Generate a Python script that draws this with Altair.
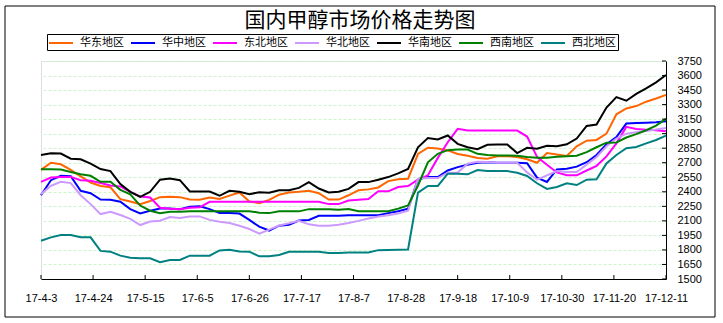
import datetime as dt
import altair as alt
import pandas as pd

# ---- data (every 4 days from 2017-04-03) ----
start = dt.date(2017, 4, 3)
dates = [(start + dt.timedelta(days=4 * i)).strftime("%Y/%m/%d") for i in range(64)]

series_names = ["华东地区", "华中地区", "东北地区", "华北地区", "华南地区", "西南地区", "西北地区"]
colors = ["#FF6600", "#0000FF", "#FF00FF", "#CC99FF", "#000000", "#008000", "#008080"]

east = [2626, 2700, 2684, 2626, 2560, 2496, 2460, 2447,
        2324, 2300, 2273, 2305, 2345, 2350, 2345, 2320,
        2317, 2341, 2325, 2360, 2393, 2300, 2283, 2317,
        2370, 2393, 2400, 2410, 2386, 2320, 2320, 2364,
        2415, 2425, 2445, 2510, 2530, 2535, 2790, 2855,
        2846, 2827, 2790, 2772, 2750, 2741, 2766, 2768,
        2758, 2736, 2700, 2800, 2786, 2770, 2870, 2928,
        2935, 3000, 3200, 3260, 3285, 3330, 3363, 3401]

central = [2365, 2520, 2565, 2560, 2410, 2386, 2320, 2317,
           2297, 2221, 2177, 2204, 2228, 2228, 2221, 2247,
           2250, 2221, 2180, 2180, 2175, 2110, 2040, 2000,
           2050, 2060, 2104, 2110, 2153, 2153, 2153, 2158,
           2158, 2158, 2158, 2180, 2200, 2226, 2530, 2552,
           2552, 2620, 2655, 2680, 2700, 2705, 2700, 2700,
           2700, 2695, 2546, 2502, 2631, 2638, 2660, 2705,
           2780, 2890, 2965, 3104, 3110, 3113, 3117, 3127]

northeast = [2503, 2547, 2554, 2554, 2520, 2513, 2490, 2465,
             2455, 2400, 2352, 2341, 2236, 2225, 2221, 2236,
             2240, 2297, 2297, 2297, 2297, 2297, 2297, 2297,
             2297, 2297, 2297, 2297, 2297, 2273, 2273, 2310,
             2318, 2325, 2405, 2405, 2449, 2460, 2525, 2570,
             2750, 2912, 3050, 3032, 3032, 3032, 3032, 3032,
             3032, 2970, 2760, 2680, 2600, 2570, 2570, 2620,
             2668, 2765, 2900, 3070, 3049, 3040, 3035, 3025]

north = [2376, 2462, 2503, 2490, 2365, 2273, 2170, 2194,
         2160, 2120, 2057, 2093, 2101, 2140, 2130, 2146,
         2146, 2110, 2090, 2077, 2050, 2016, 1968, 2010,
         2052, 2075, 2101, 2064, 2050, 2050, 2060, 2078,
         2100, 2125, 2145, 2158, 2175, 2206, 2535, 2542,
         2542, 2597, 2600, 2689, 2710, 2708, 2700, 2700,
         2700, 2600, 2525, 2570, 2614, 2604, 2604, 2680,
         2760, 2870, 2950, 3000, 3015, 3028, 3042, 3059]

south = [2780, 2797, 2795, 2742, 2736, 2690, 2635, 2614,
         2480, 2400, 2348, 2400, 2525, 2537, 2520, 2403,
         2403, 2403, 2359, 2410, 2400, 2376, 2395, 2390,
         2415, 2417, 2440, 2500, 2434, 2393, 2400, 2430,
         2500, 2500, 2525, 2552, 2590, 2635, 2860, 2955,
         2940, 2981, 2895, 2860, 2840, 2885, 2888, 2888,
         2800, 2854, 2845, 2876, 2870, 2890, 2950, 3080,
         3095, 3270, 3377, 3340, 3410, 3468, 3530, 3606]

southwest = [2633, 2633, 2630, 2605, 2582, 2565, 2503, 2503,
             2420, 2375, 2258, 2205, 2180, 2194, 2194, 2200,
             2200, 2200, 2200, 2200, 2200, 2200, 2185, 2180,
             2198, 2198, 2198, 2221, 2221, 2221, 2215, 2222,
             2200, 2199, 2199, 2199, 2226, 2260, 2465, 2705,
             2792, 2830, 2837, 2837, 2792, 2780, 2775, 2775,
             2772, 2758, 2751, 2752, 2761, 2768, 2772, 2810,
             2860, 2907, 2910, 2960, 2995, 3035, 3084, 3152]

northwest = [1895, 1930, 1954, 1954, 1930, 1930, 1790, 1782,
             1741, 1720, 1714, 1714, 1673, 1697, 1697, 1741,
             1741, 1741, 1795, 1803, 1785, 1782, 1734, 1734,
             1748, 1782, 1782, 1782, 1782, 1769, 1769, 1774,
             1774, 1774, 1798, 1800, 1803, 1805, 2391, 2460,
             2460, 2587, 2587, 2580, 2625, 2614, 2614, 2614,
             2597, 2563, 2488, 2430, 2450, 2488, 2470, 2525,
             2529, 2693, 2780, 2850, 2862, 2900, 2935, 2980]

x_tick_dates = ["2017/04/03", "2017/04/24", "2017/05/15", "2017/06/05", "2017/06/26",
                "2017/07/17", "2017/08/07", "2017/08/28", "2017/09/18", "2017/10/09",
                "2017/10/30", "2017/11/20", "2017/12/11"]
y_ticks = list(range(1500, 3751, 150))
title_text = "国内甲醇市场价格走势图"

# ---- build table ----
all_series = [east, central, northeast, north, south, southwest, northwest]
rows = []
for name, vals in zip(series_names, all_series):
    for d, v in zip(dates, vals):
        rows.append({"date": d, "series": name, "price": v})
df = pd.DataFrame(rows)


def dtobj(s):
    y, m, d = [int(p) for p in s.split("/")]
    return alt.DateTime(year=y, month=m, date=d)


W, H = 625, 218

x_scale = alt.Scale(domain=[dtobj(x_tick_dates[0]), dtobj(x_tick_dates[-1])])
x_axis = alt.Axis(
    values=[dtobj(s) for s in x_tick_dates],
    labelExpr="timeFormat(datum.value, '%y') + '-' + (month(datum.value) + 1) + '-' + date(datum.value)",
    title=None, grid=False, tickSize=0, domainColor="black", domainWidth=1,
    labelFont="Liberation Sans", labelFontSize=11, labelColor="black",
    labelPadding=13, labelFlush=False, labelOverlap=False, zindex=1,
)
y_scale = alt.Scale(domain=[1500, 3750], nice=False, zero=False)
y_axis = alt.Axis(
    orient="right", values=y_ticks, format="d", title=None, grid=True,
    gridColor="#ccf5cc", gridDash=[3, 2], gridWidth=1,
    tickSize=0, domainColor="black", domainWidth=1,
    labelFont="Liberation Sans", labelFontSize=11, labelColor="black",
    labelPadding=11, labelOverlap=False, labelFlush=False, labelBound=False,
)

lines = alt.Chart(df).mark_line(strokeWidth=2).encode(
    x=alt.X("date:T", scale=x_scale, axis=x_axis),
    y=alt.Y("price:Q", scale=y_scale, axis=y_axis),
    color=alt.Color(
        "series:N",
        scale=alt.Scale(domain=series_names, range=colors),
        sort=series_names,
        legend=alt.Legend(
            title=None, orient="none", legendX=6, legendY=-27,
            direction="horizontal", columns=7,
            symbolType="M-2,0H2", symbolSize=144, symbolStrokeWidth=2,
            symbolOffset=5,
            labelFont="Noto Sans CJK SC", labelFontSize=11, labelColor="black",
            labelOffset=12, columnPadding=3, padding=2,
            strokeColor="black", fillColor="white",
        ),
    ),
)

yt = alt.Chart(pd.DataFrame({"price": y_ticks})).mark_rule(color="black", strokeWidth=1).encode(
    y=alt.Y("price:Q", scale=y_scale, axis=y_axis), x=alt.value(W - 4), x2=alt.value(W)
)
xt = alt.Chart(pd.DataFrame({"date": x_tick_dates})).mark_rule(color="black", strokeWidth=1).encode(
    x=alt.X("date:T", scale=x_scale, axis=x_axis), y=alt.value(H - 4), y2=alt.value(H)
)
border = alt.Chart(pd.DataFrame({"a": [0]})).mark_rect(
    fillOpacity=0, stroke="black", strokeWidth=1
).encode(x=alt.value(-36), x2=alt.value(674), y=alt.value(-55), y2=alt.value(256))

title = alt.Chart(pd.DataFrame({"t": [title_text]})).mark_text(
    font="Noto Sans CJK SC", fontSize=21, fontWeight="normal", color="black",
    align="center", baseline="middle",
).encode(text="t:N", x=alt.value(319), y=alt.value(-40))

chart = alt.layer(border, title, lines, yt, xt).properties(
    width=W, height=H,
    autosize=alt.AutoSizeParams(type="none"),
    padding={"left": 41, "top": 61, "right": 57, "bottom": 44},
).configure_view(strokeWidth=0).configure(background="white")

chart.save("out.html", embed_options={"renderer": "svg", "actions": False})
